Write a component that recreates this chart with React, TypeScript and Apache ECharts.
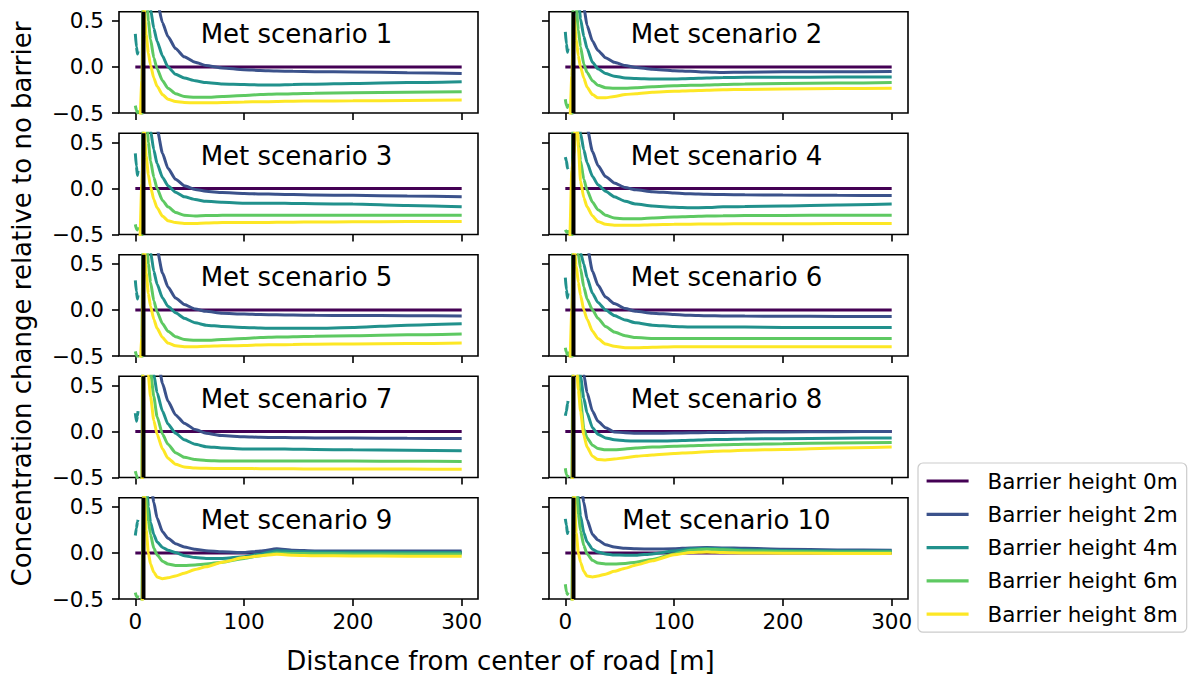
import React, { useEffect, useRef } from "react";
import * as echarts from "echarts";

// Distance grid [m]: road side (upwind of the barrier) and leeward side
const ROAD_X = [0, 1, 2, 2.5, 3.5, 6];
const LEE_X = [8, 10, 12, 14, 17, 20, 25, 30, 37, 45, 55, 65, 80, 100, 115, 130, 145, 165, 200, 250, 300];
const DIST = [...ROAD_X, ...LEE_X];
const BARRIER_X = 7.5;

const X_MIN = -15;
const X_MAX = 315;
const Y_MIN = -0.5;
const Y_MAX = 0.6;
const X_TICKS = [0, 100, 200, 300];
const Y_TICKS = [-0.5, 0, 0.5];

const HEIGHT_NAMES = [
  "Barrier height 0m",
  "Barrier height 2m",
  "Barrier height 4m",
  "Barrier height 6m",
  "Barrier height 8m",
];
const HEIGHT_COLORS = ["#440154", "#3b528b", "#21918c", "#5ec962", "#fde725"];

const SCENARIO_TITLES = [
  "Met scenario 1", "Met scenario 2", "Met scenario 3", "Met scenario 4", "Met scenario 5",
  "Met scenario 6", "Met scenario 7", "Met scenario 8", "Met scenario 9", "Met scenario 10",
];
const X_TITLE = "Distance from center of road [m]";
const Y_TITLE = "Concentration change relative to no barrier";

// Relative concentration change; road-side values first, then leeward values
const NO_BARRIER = [0, 0, 0, 0, 0, 0, 0, 0, 0, 0, 0, 0, 0, 0, 0, 0, 0, 0, 0, 0, 0, 0, 0, 0, 0, 0, 0];

const MET1_H2 = [1.5, 1.5, 1.5, 1.5, 1.5, 2.5, 5, 3, 2, 1.5, 1.0, 0.72, 0.48, 0.33, 0.2, 0.11, 0.05, 0.015, -0.01, -0.03, -0.038, -0.044, -0.048, -0.051, -0.055, -0.062, -0.07];
const MET1_H4 = [0.36, 0.22, 0.14, 0.17, null, 2.0, 3, 1.5, 0.9, 0.63, 0.42, 0.28, 0.12, 0.0, -0.08, -0.12, -0.15, -0.17, -0.185, -0.19, -0.195, -0.195, -0.19, -0.187, -0.18, -0.17, -0.16];
const MET1_H6 = [-0.42, -0.47, -0.5, -0.47, null, -0.6, 2, 0.9, 0.5, 0.3, 0.1, -0.02, -0.15, -0.23, -0.29, -0.32, -0.33, -0.33, -0.32, -0.31, -0.3, -0.295, -0.29, -0.285, -0.28, -0.275, -0.27];
const MET1_H8 = [-0.8, -0.8, -0.8, -0.8, -0.8, -0.15, 0.65, 0.35, 0.15, 0.02, -0.12, -0.21, -0.3, -0.35, -0.375, -0.385, -0.39, -0.39, -0.385, -0.38, -0.378, -0.375, -0.372, -0.37, -0.368, -0.364, -0.36];

const MET2_H2 = [1.5, 1.5, 1.5, 1.5, 1.5, 2.5, 4, 2.2, 1.4, 1.0, 0.65, 0.45, 0.28, 0.18, 0.1, 0.05, 0.015, -0.005, -0.025, -0.04, -0.048, -0.055, -0.06, -0.057, -0.052, -0.052, -0.05];
const MET2_H4 = [0.38, 0.25, 0.16, 0.2, null, 2.0, 2.5, 1.2, 0.75, 0.52, 0.33, 0.2, 0.05, -0.02, -0.07, -0.1, -0.12, -0.125, -0.13, -0.13, -0.125, -0.12, -0.115, -0.113, -0.112, -0.11, -0.11];
const MET2_H6 = [-0.35, -0.42, -0.44, -0.4, null, -0.6, 1.5, 0.65, 0.4, 0.22, 0.03, -0.06, -0.15, -0.2, -0.225, -0.23, -0.23, -0.225, -0.215, -0.205, -0.2, -0.195, -0.19, -0.185, -0.18, -0.175, -0.17];
const MET2_H8 = [-0.8, -0.8, -0.8, -0.8, -0.8, -0.1, 0.55, 0.3, 0.12, 0.0, -0.12, -0.22, -0.3, -0.335, -0.335, -0.32, -0.3, -0.29, -0.275, -0.265, -0.258, -0.252, -0.248, -0.244, -0.24, -0.235, -0.23];

const MET3_H2 = [1.5, 1.5, 1.5, 1.5, 1.5, 2.5, 5, 3, 2, 1.4, 0.95, 0.65, 0.38, 0.22, 0.1, 0.03, -0.01, -0.03, -0.045, -0.055, -0.06, -0.063, -0.066, -0.07, -0.075, -0.082, -0.09];
const MET3_H4 = [0.38, 0.24, 0.14, 0.19, null, 2.0, 3, 1.5, 0.9, 0.63, 0.42, 0.27, 0.12, 0.03, -0.04, -0.09, -0.12, -0.14, -0.15, -0.16, -0.16, -0.16, -0.163, -0.165, -0.17, -0.185, -0.2];
const MET3_H6 = [-0.39, -0.44, -0.45, -0.42, null, -0.6, 2, 0.9, 0.5, 0.3, 0.12, 0.0, -0.13, -0.2, -0.26, -0.29, -0.3, -0.295, -0.29, -0.29, -0.29, -0.29, -0.29, -0.29, -0.29, -0.29, -0.29];
const MET3_H8 = [-0.8, -0.8, -0.8, -0.8, -0.8, 0.05, 0.65, 0.35, 0.15, 0.02, -0.12, -0.21, -0.3, -0.35, -0.37, -0.38, -0.38, -0.375, -0.37, -0.37, -0.37, -0.368, -0.366, -0.364, -0.362, -0.36, -0.36];

const MET4_H2 = [1.5, 1.5, 1.5, 1.5, 1.5, 2.5, 5, 3, 2, 1.4, 0.95, 0.66, 0.4, 0.25, 0.13, 0.06, 0.01, -0.015, -0.035, -0.05, -0.058, -0.063, -0.066, -0.069, -0.072, -0.075, -0.077];
const MET4_H4 = [0.34, 0.3, 0.22, 0.21, null, 2.0, 3, 1.5, 0.9, 0.6, 0.42, 0.28, 0.13, 0.04, -0.03, -0.09, -0.14, -0.17, -0.19, -0.205, -0.21, -0.207, -0.2, -0.195, -0.19, -0.18, -0.17];
const MET4_H6 = [-0.45, -0.47, -0.48, -0.45, null, -0.6, 2, 0.9, 0.5, 0.3, 0.1, -0.02, -0.15, -0.23, -0.29, -0.32, -0.33, -0.33, -0.32, -0.31, -0.305, -0.3, -0.297, -0.295, -0.293, -0.29, -0.29];
const MET4_H8 = [-0.8, -0.8, -0.8, -0.8, -0.8, 0.2, 0.38, 1.0, 0.45, 0.08, -0.1, -0.2, -0.3, -0.36, -0.39, -0.4, -0.4, -0.4, -0.395, -0.39, -0.388, -0.386, -0.385, -0.384, -0.383, -0.381, -0.38];

const MET5_H2 = [1.5, 1.5, 1.5, 1.5, 1.5, 2.5, 5, 3, 2, 1.4, 0.95, 0.66, 0.4, 0.25, 0.13, 0.06, 0.01, -0.015, -0.035, -0.045, -0.05, -0.053, -0.055, -0.058, -0.06, -0.063, -0.065];
const MET5_H4 = [0.32, 0.2, 0.12, 0.16, null, 2.0, 3, 1.5, 0.9, 0.63, 0.42, 0.28, 0.13, 0.04, -0.03, -0.09, -0.14, -0.165, -0.18, -0.19, -0.195, -0.2, -0.2, -0.2, -0.19, -0.165, -0.15];
const MET5_H6 = [-0.45, -0.49, -0.52, -0.5, null, -0.6, 2, 0.9, 0.5, 0.3, 0.1, -0.02, -0.15, -0.23, -0.29, -0.32, -0.33, -0.33, -0.32, -0.31, -0.3, -0.295, -0.29, -0.285, -0.28, -0.27, -0.26];
const MET5_H8 = [-0.8, -0.8, -0.8, -0.8, -0.8, -0.3, 0.75, 0.4, 0.18, 0.04, -0.1, -0.2, -0.3, -0.36, -0.39, -0.4, -0.4, -0.395, -0.39, -0.385, -0.38, -0.378, -0.375, -0.372, -0.37, -0.365, -0.36];

const MET6_H2 = [1.5, 1.5, 1.5, 1.5, 1.5, 2.5, 5, 3, 2, 1.45, 1.0, 0.7, 0.42, 0.27, 0.14, 0.07, 0.015, -0.015, -0.035, -0.05, -0.057, -0.062, -0.065, -0.067, -0.068, -0.07, -0.07];
const MET6_H4 = [0.35, 0.22, 0.13, 0.18, null, 2.0, 3, 1.8, 1.1, 0.62, 0.5, 0.35, 0.18, 0.08, 0.0, -0.06, -0.11, -0.14, -0.165, -0.18, -0.185, -0.185, -0.185, -0.185, -0.19, -0.19, -0.19];
const MET6_H6 = [-0.41, -0.46, -0.49, -0.45, null, -0.6, 2.5, 1.2, 0.6, 0.45, 0.25, 0.12, 0.0, -0.09, -0.18, -0.24, -0.28, -0.3, -0.31, -0.31, -0.31, -0.31, -0.31, -0.31, -0.31, -0.31, -0.31];
const MET6_H8 = [-0.8, -0.8, -0.8, -0.8, -0.8, 0.0, 0.72, 0.48, 0.3, 0.16, 0.0, -0.1, -0.23, -0.31, -0.37, -0.395, -0.41, -0.41, -0.405, -0.4, -0.4, -0.4, -0.4, -0.4, -0.4, -0.4, -0.4];

const MET7_H2 = [1.5, 1.5, 1.5, 1.5, 1.5, 2.5, 6, 4, 2.8, 2.0, 1.3, 0.85, 0.52, 0.33, 0.18, 0.09, 0.02, -0.02, -0.045, -0.058, -0.063, -0.066, -0.068, -0.07, -0.072, -0.075, -0.077];
const MET7_H4 = [0.2, 0.11, 0.17, 0.22, null, 2.0, 4, 2.2, 1.4, 0.95, 0.62, 0.42, 0.22, 0.08, -0.02, -0.09, -0.14, -0.165, -0.18, -0.19, -0.19, -0.19, -0.192, -0.195, -0.2, -0.205, -0.21];
const MET7_H6 = [-0.43, -0.47, -0.52, -0.55, null, -0.6, 3, 1.5, 0.95, 0.65, 0.38, 0.16, -0.03, -0.14, -0.23, -0.28, -0.305, -0.315, -0.32, -0.32, -0.32, -0.32, -0.32, -0.32, -0.322, -0.324, -0.325];
const MET7_H8 = [-0.8, -0.8, -0.8, -0.8, -0.8, -0.8, 2, 1.0, 0.6, 0.38, 0.12, -0.03, -0.19, -0.29, -0.355, -0.385, -0.398, -0.4, -0.402, -0.403, -0.404, -0.405, -0.406, -0.407, -0.408, -0.409, -0.41];

const MET8_H2 = [1.5, 1.5, 1.5, 1.5, 1.5, 2.5, 4, 2.2, 1.4, 1.0, 0.62, 0.42, 0.22, 0.11, 0.04, -0.005, -0.015, -0.02, -0.02, -0.018, -0.015, -0.012, -0.01, -0.008, -0.005, -0.002, 0.0];
const MET8_H4 = [0.17, 0.22, 0.3, 0.33, null, 2.0, 3, 1.5, 0.9, 0.6, 0.36, 0.2, 0.04, -0.03, -0.07, -0.09, -0.1, -0.105, -0.105, -0.1, -0.095, -0.09, -0.087, -0.083, -0.078, -0.073, -0.07];
const MET8_H6 = [-0.4, -0.47, -0.49, -0.47, null, -0.6, 2, 0.95, 0.6, 0.35, 0.03, -0.07, -0.15, -0.185, -0.2, -0.2, -0.19, -0.18, -0.17, -0.16, -0.155, -0.15, -0.145, -0.14, -0.133, -0.125, -0.12];
const MET8_H8 = [-0.8, -0.8, -0.8, -0.8, -0.8, -0.8, 1.3, 0.75, 0.45, 0.22, -0.04, -0.17, -0.27, -0.305, -0.31, -0.3, -0.285, -0.27, -0.255, -0.24, -0.23, -0.22, -0.212, -0.205, -0.195, -0.18, -0.17];

const MET9_H2 = [1.5, 1.5, 1.5, 1.5, 1.5, 2.5, 3, 1.8, 1.1, 0.8, 0.55, 0.38, 0.23, 0.16, 0.1, 0.065, 0.04, 0.025, 0.012, 0.005, 0.02, 0.045, 0.03, 0.022, 0.02, 0.02, 0.02];
const MET9_H4 = [0.19, 0.27, 0.34, 0.36, null, 2.0, 1.8, 0.85, 0.5, 0.33, 0.2, 0.12, 0.06, 0.03, 0.005, -0.03, -0.05, -0.06, -0.06, -0.04, -0.01, 0.025, 0.015, 0.01, 0.008, 0.006, 0.005];
const MET9_H6 = [-0.43, -0.47, -0.48, -0.46, null, -0.6, 1.2, 0.6, 0.35, 0.2, 0.05, -0.02, -0.09, -0.12, -0.135, -0.135, -0.13, -0.12, -0.1, -0.06, -0.03, 0.0, -0.005, -0.008, -0.01, -0.01, -0.01];
const MET9_H8 = [-0.8, -0.8, -0.8, -0.8, -0.8, -0.8, 0.7, 0.25, 0.0, -0.12, -0.21, -0.26, -0.28, -0.27, -0.25, -0.22, -0.18, -0.15, -0.1, -0.05, -0.03, -0.015, -0.025, -0.03, -0.033, -0.035, -0.035];

const MET10_H2 = [1.5, 1.5, 1.5, 1.5, 1.5, 2.5, 3, 1.8, 1.1, 0.8, 0.55, 0.36, 0.2, 0.14, 0.09, 0.065, 0.05, 0.045, 0.042, 0.045, 0.055, 0.058, 0.055, 0.05, 0.04, 0.033, 0.03];
const MET10_H4 = [0.37, 0.3, 0.21, 0.24, null, 2.0, 2, 1.0, 0.6, 0.4, 0.22, 0.12, 0.04, 0.01, -0.01, -0.022, -0.025, -0.025, -0.01, 0.02, 0.045, 0.05, 0.045, 0.035, 0.028, 0.022, 0.02];
const MET10_H6 = [-0.34, -0.42, -0.45, -0.43, null, -0.6, 1.3, 0.75, 0.42, 0.24, 0.08, -0.01, -0.08, -0.11, -0.12, -0.12, -0.115, -0.1, -0.07, -0.01, 0.03, 0.04, 0.035, 0.025, 0.015, 0.01, 0.01];
const MET10_H8 = [-0.8, -0.8, -0.8, -0.8, -0.8, -0.8, 0.7, 0.22, 0.0, -0.1, -0.2, -0.25, -0.26, -0.25, -0.23, -0.2, -0.165, -0.13, -0.085, -0.02, 0.005, 0.01, 0.005, 0.0, -0.003, -0.005, -0.005];

const SCENARIOS = [
  [NO_BARRIER, MET1_H2, MET1_H4, MET1_H6, MET1_H8],
  [NO_BARRIER, MET2_H2, MET2_H4, MET2_H6, MET2_H8],
  [NO_BARRIER, MET3_H2, MET3_H4, MET3_H6, MET3_H8],
  [NO_BARRIER, MET4_H2, MET4_H4, MET4_H6, MET4_H8],
  [NO_BARRIER, MET5_H2, MET5_H4, MET5_H6, MET5_H8],
  [NO_BARRIER, MET6_H2, MET6_H4, MET6_H6, MET6_H8],
  [NO_BARRIER, MET7_H2, MET7_H4, MET7_H6, MET7_H8],
  [NO_BARRIER, MET8_H2, MET8_H4, MET8_H6, MET8_H8],
  [NO_BARRIER, MET9_H2, MET9_H4, MET9_H6, MET9_H8],
  [NO_BARRIER, MET10_H2, MET10_H4, MET10_H6, MET10_H8],
];

// Panel layout (pixels)
const COLUMN_LEFT = [119, 549];
const ROW_TOP = [11.7, 133.2, 254.7, 376.2, 497.7];
const PANEL_W = 359;
const PANEL_H = 101.3;

const FONT = "DejaVu Sans";
const TICK_FONT = 21.5;
const TITLE_FONT = 26;

function formatY(v: number): string {
  const s = Math.abs(v).toFixed(1);
  return v < 0 ? "\u2212" + s : s;
}

function buildOption() {
  const panels = SCENARIOS.map((_, i) => {
    const row = Math.floor(i / 2);
    const col = i % 2;
    return { row, col, left: COLUMN_LEFT[col], top: ROW_TOP[row] };
  });

  const grid = panels.map((p) => ({
    left: p.left,
    top: p.top,
    width: PANEL_W,
    height: PANEL_H,
    show: true,
    borderColor: "#000",
    borderWidth: 1.6,
    backgroundColor: "transparent",
  }));

  const xAxis = panels.map((p, i) => ({
    type: "value",
    gridIndex: i,
    min: X_MIN,
    max: X_MAX,
    axisLine: { show: false, onZero: false },
    axisTick: {
      show: true,
      length: 7,
      lineStyle: { color: "#000", width: 1.6 },
      customValues: X_TICKS,
    },
    axisLabel: {
      show: p.row === ROW_TOP.length - 1,
      customValues: X_TICKS,
      margin: 11,
      color: "#000",
      fontSize: TICK_FONT,
      fontFamily: FONT,
    },
    splitLine: { show: false },
  }));

  const yAxis = panels.map((p, i) => ({
    type: "value",
    gridIndex: i,
    min: Y_MIN,
    max: Y_MAX,
    axisLine: { show: false, onZero: false },
    axisTick: {
      show: true,
      length: 7,
      lineStyle: { color: "#000", width: 1.6 },
      customValues: Y_TICKS,
    },
    axisLabel: {
      show: p.col === 0,
      customValues: Y_TICKS,
      margin: 15,
      color: "#000",
      fontSize: TICK_FONT,
      fontFamily: FONT,
      formatter: formatY,
    },
    splitLine: { show: false },
  }));

  const series: any[] = [];
  SCENARIOS.forEach((curves, i) => {
    curves.forEach((vals, h) => {
      series.push({
        type: "line",
        name: HEIGHT_NAMES[h],
        xAxisIndex: i,
        yAxisIndex: i,
        data: DIST.map((x, k) => [x, vals[k] === null ? "-" : vals[k]]),
        showSymbol: false,
        symbol: "none",
        smooth: 0.2,
        smoothMonotone: "x",
        connectNulls: false,
        clip: true,
        color: HEIGHT_COLORS[h],
        lineStyle: { color: HEIGHT_COLORS[h], width: 3 },
        z: 2 + h * 0.01,
        silent: true,
      });
    });
    // barrier location
    series.push({
      type: "line",
      xAxisIndex: i,
      yAxisIndex: i,
      data: [
        [BARRIER_X, Y_MIN],
        [BARRIER_X, Y_MAX],
      ],
      symbol: "none",
      clip: true,
      color: "#000",
      lineStyle: { color: "#000", width: 4 },
      z: 4,
      silent: true,
    });
  });

  const graphic: any[] = panels.map((p, i) => ({
    type: "text",
    x: p.left + PANEL_W / 2 - 2,
    y: p.top + 22.6,
    silent: true,
    z: 10,
    style: {
      text: SCENARIO_TITLES[i],
      fontSize: TITLE_FONT,
      fontFamily: FONT,
      fill: "#000",
      align: "center",
      verticalAlign: "middle",
      textAlign: "center",
      textVerticalAlign: "middle",
    },
  }));
  graphic.push({
    type: "text",
    x: 500.5,
    y: 661,
    silent: true,
    style: {
      text: X_TITLE,
      fontSize: TITLE_FONT,
      fontFamily: FONT,
      fill: "#000",
      align: "center",
      verticalAlign: "middle",
      textAlign: "center",
      textVerticalAlign: "middle",
    },
  });
  graphic.push({
    type: "text",
    x: 22,
    y: 304,
    rotation: Math.PI / 2,
    silent: true,
    style: {
      text: Y_TITLE,
      fontSize: TITLE_FONT,
      fontFamily: FONT,
      fill: "#000",
      align: "center",
      verticalAlign: "middle",
      textAlign: "center",
      textVerticalAlign: "middle",
    },
  });

  return {
    animation: false,
    backgroundColor: "#fff",
    textStyle: { fontFamily: FONT },
    grid,
    xAxis,
    yAxis,
    series,
    graphic,
    legend: {
      data: HEIGHT_NAMES,
      orient: "vertical",
      left: 918,
      top: 463,
      icon: "rect",
      itemWidth: 42,
      itemHeight: 3.2,
      itemGap: 9.3,
      padding: [6, 9, 6, 8.6],
      borderColor: "#cccccc",
      borderWidth: 1.2,
      borderRadius: 5,
      backgroundColor: "rgba(255,255,255,0.8)",
      selectedMode: false,
      textStyle: {
        fontSize: TICK_FONT,
        fontFamily: FONT,
        color: "#000",
        lineHeight: 24,
        padding: [0, 0, 0, 14],
      },
    },
  };
}

export default function App() {
  const ref = useRef<HTMLDivElement>(null);
  useEffect(() => {
    if (!ref.current) return;
    const chart = echarts.init(ref.current, null, { renderer: "svg" });
    chart.setOption(buildOption() as any);
    return () => chart.dispose();
  }, []);
  return (
    <div
      ref={ref}
      style={{ position: "fixed", left: 0, top: 0, width: 1190, height: 677, background: "#fff" }}
    />
  );
}
